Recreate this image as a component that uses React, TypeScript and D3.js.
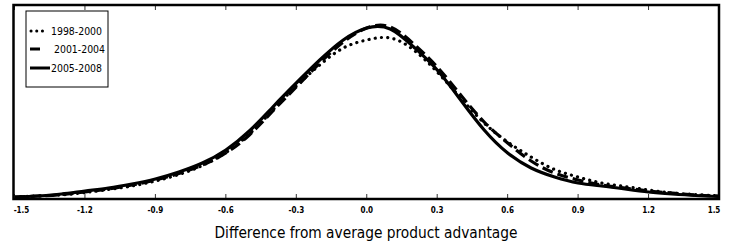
import React, { useEffect, useRef } from 'react';
import * as d3 from 'd3';

// grid of product advantage differences
const xs = [
  -1.5, -1.4, -1.3, -1.2, -1.1, -1.0, -0.9, -0.8, -0.7, -0.6, -0.5, -0.4, -0.3, -0.2, -0.1, 0.0,
  0.1, 0.2, 0.3, 0.4, 0.5, 0.6, 0.7, 0.8, 0.9, 1.0, 1.1, 1.2, 1.3, 1.4, 1.5,
];

const dens1998 = [
  0.02, 0.03, 0.04, 0.065, 0.095, 0.13, 0.18, 0.245, 0.335, 0.465, 0.65, 0.89, 1.13, 1.34, 1.51, 1.59,
  1.61, 1.49, 1.27, 1.01, 0.76, 0.57, 0.42, 0.295, 0.22, 0.16, 0.125, 0.09, 0.06, 0.045, 0.03,
];
const dens2001 = [
  0.02, 0.03, 0.045, 0.07, 0.1, 0.14, 0.19, 0.255, 0.34, 0.46, 0.64, 0.88, 1.12, 1.36, 1.57, 1.71,
  1.72, 1.55, 1.32, 1.04, 0.77, 0.56, 0.38, 0.26, 0.19, 0.14, 0.11, 0.08, 0.06, 0.04, 0.03,
];
const dens2005 = [
  0.02, 0.03, 0.05, 0.08, 0.11, 0.15, 0.2, 0.27, 0.36, 0.49, 0.68, 0.92, 1.16, 1.39, 1.59, 1.71,
  1.7, 1.52, 1.29, 0.99, 0.69, 0.46, 0.31, 0.22, 0.16, 0.13, 0.1, 0.07, 0.05, 0.035, 0.025,
];

const seriesNames = ['1998-2000', '2001-2004', '2005-2008'];
const tickValues = [-1.5, -1.2, -0.9, -0.6, -0.3, 0.0, 0.3, 0.6, 0.9, 1.2, 1.5];
const tickLabels = ['-1.5', '-1.2', '-0.9', '-0.6', '-0.3', '0.0', '0.3', '0.6', '0.9', '1.2', '1.5'];

const DensityChart: React.FC = () => {
  const ref = useRef<SVGSVGElement | null>(null);

  useEffect(() => {
    const svg = d3.select(ref.current);
    svg.selectAll('*').remove();

    const left = 14.5;
    const right = 719;
    const top = 5;
    const bottom = 199;

    const x = d3.scaleLinear().domain([-1.5, 1.5]).range([left, right]);
    const y = d3.scaleLinear().domain([0, 1.94]).range([bottom, top]);

    const styles = [
      { dash: '0.1 6.2', cap: 'round', width: 3.2 },
      { dash: '11 5', cap: 'butt', width: 3.2 },
      { dash: null, cap: 'butt', width: 3.2 },
    ];
    const allSeries = [dens1998, dens2001, dens2005];

    const line = d3
      .line<number>()
      .x((_, i) => x(xs[i]))
      .y((d) => y(d))
      .curve(d3.curveNatural);

    const plot = svg.append('g');
    allSeries.forEach((s, k) => {
      const p = plot
        .append('path')
        .datum(s)
        .attr('d', line)
        .attr('fill', 'none')
        .attr('stroke', '#000')
        .attr('stroke-width', styles[k].width)
        .attr('stroke-linecap', styles[k].cap)
        .attr('stroke-linejoin', 'round');
      if (styles[k].dash) p.attr('stroke-dasharray', styles[k].dash);
    });

    // ticks, inward on bottom and top
    const ticks = svg.append('g');
    tickValues.forEach((v) => {
      ticks.append('line').attr('x1', x(v)).attr('x2', x(v)).attr('y1', bottom).attr('y2', bottom - 5)
        .attr('stroke', '#333').attr('stroke-width', 1);
      ticks.append('line').attr('x1', x(v)).attr('x2', x(v)).attr('y1', top).attr('y2', top + 5)
        .attr('stroke', '#333').attr('stroke-width', 1);
    });

    // frame
    svg.append('rect')
      .attr('x', left - 1)
      .attr('y', top)
      .attr('width', right - left + 1)
      .attr('height', bottom - top)
      .attr('fill', 'none')
      .attr('stroke', '#000')
      .attr('stroke-width', 2.5);

    // tick labels
    svg.append('g')
      .selectAll('text')
      .data(tickValues)
      .enter()
      .append('text')
      .attr('x', (d, i) => (i === 0 ? x(d) + 7 : i === tickValues.length - 1 ? x(d) - 5 : x(d)))
      .attr('y', 213)
      .attr('text-anchor', 'middle')
      .attr('font-family', 'DejaVu Sans Condensed')
      .attr('font-weight', 'bold')
      .attr('font-size', 8)
      .text((_, i) => tickLabels[i]);

    // axis title
    svg.append('text')
      .attr('x', 366)
      .attr('y', 238)
      .attr('text-anchor', 'middle')
      .attr('font-family', "'DejaVu Sans Condensed', 'DejaVu Sans', sans-serif")
      .attr('font-weight', 300)
      .attr('font-size', 16)
      .attr('textLength', 303)
      .attr('lengthAdjust', 'spacingAndGlyphs')
      .text('Difference from average product advantage');

    // legend
    const lg = svg.append('g');
    lg.append('rect')
      .attr('x', 26).attr('y', 11).attr('width', 82).attr('height', 76)
      .attr('fill', '#fff').attr('stroke', '#000').attr('stroke-width', 1);
    const rowsY = [31, 49, 68];
    const sampleEnd = [48, 40, 50];
    const textX = [51, 54, 51];
    seriesNames.forEach((name, k) => {
      const l = lg.append('line')
        .attr('x1', k === 0 ? 31 : 30).attr('x2', sampleEnd[k])
        .attr('y1', rowsY[k]).attr('y2', rowsY[k])
        .attr('stroke', '#000')
        .attr('stroke-width', 3)
        .attr('stroke-linecap', styles[k].cap);
      if (k === 0) l.attr('stroke-dasharray', '0.1 5.6');
      lg.append('text')
        .attr('x', textX[k])
        .attr('y', rowsY[k] + 4)
        .attr('font-family', 'DejaVu Sans Condensed')
        .attr('font-size', 11)
        .attr('textLength', 51)
        .attr('lengthAdjust', 'spacingAndGlyphs')
        .text(name);
    });
  }, []);

  return (
    <svg
      ref={ref}
      width={738}
      height={248}
      style={{ position: 'absolute', left: 0, top: 0, background: '#fff' }}
    ></svg>
  );
};

export default function App() {
  return <DensityChart />;
}
